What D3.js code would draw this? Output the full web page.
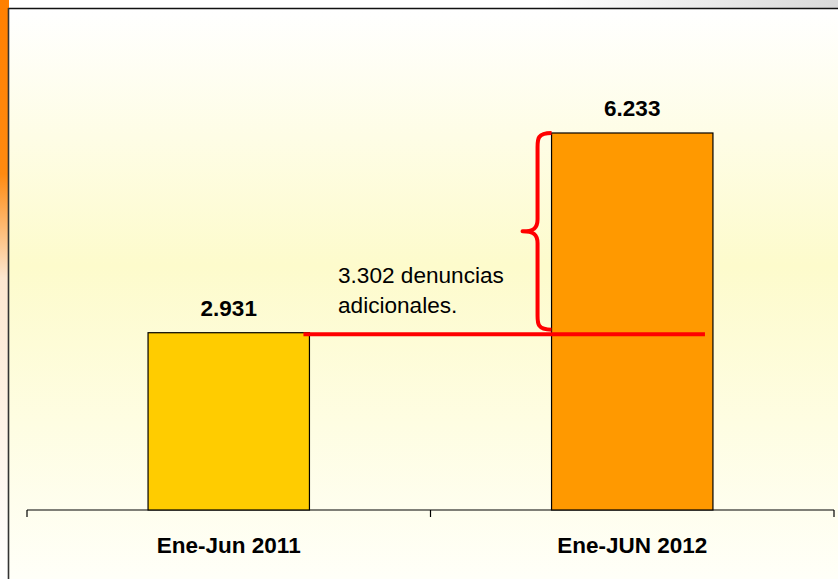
<!DOCTYPE html>
<html>
<head>
<meta charset="utf-8">
<script src="https://cdn.jsdelivr.net/npm/d3@7"></script>
<style>
html,body{margin:0;padding:0;background:#fff;}
svg{display:block;}
text{font-family:"Liberation Sans",Arial,sans-serif;}
</style>
</head>
<body>
<svg id="chart" width="838" height="579"></svg>
<script>
// ---- data ----
const categories = ["Ene-Jun 2011", "Ene-JUN 2012"];
const values = [2931, 6233];
const valueLabels = ["2.931", "6.233"];
const barColors = ["#FFCC00", "#FF9900"];
const annotationLines = ["3.302 denuncias", "adicionales."];

const svg = d3.select("#chart");
const W = 838, H = 579;
const defs = svg.append("defs");

// decorative outer gradients
const gTop = defs.append("linearGradient").attr("id","gTop").attr("x1","0").attr("x2","1").attr("y1","0").attr("y2","0");
gTop.append("stop").attr("offset","0%").attr("stop-color","#ffffff");
gTop.append("stop").attr("offset","65%").attr("stop-color","#ffffff");
gTop.append("stop").attr("offset","100%").attr("stop-color","#d9d9d9");
const gLeft = defs.append("linearGradient").attr("id","gLeft").attr("x1","0").attr("x2","0").attr("y1","0").attr("y2","1");
gLeft.append("stop").attr("offset","0%").attr("stop-color","#ff8000");
gLeft.append("stop").attr("offset","30%").attr("stop-color","#ff8a10");
gLeft.append("stop").attr("offset","48%").attr("stop-color","#fde7d0");
gLeft.append("stop").attr("offset","100%").attr("stop-color","#ffffff");
const gBg = defs.append("linearGradient").attr("id","gBg").attr("x1","0").attr("x2","0").attr("y1","0").attr("y2","1");
gBg.append("stop").attr("offset","0%").attr("stop-color","#ffffff");
gBg.append("stop").attr("offset","45%").attr("stop-color","#fdfbcc");
gBg.append("stop").attr("offset","100%").attr("stop-color","#fffff8");

svg.append("rect").attr("x",0).attr("y",0).attr("width",W).attr("height",9).attr("fill","url(#gTop)");
svg.append("rect").attr("x",0).attr("y",0).attr("width",9).attr("height",H).attr("fill","url(#gLeft)");
svg.append("rect").attr("x",9).attr("y",9).attr("width",W-9).attr("height",H-9).attr("fill","url(#gBg)");
// frame
svg.append("line").attr("x1",8.5).attr("x2",W).attr("y1",8.5).attr("y2",8.5).attr("stroke","#111").attr("stroke-width",1.6);
svg.append("line").attr("x1",8.5).attr("x2",8.5).attr("y1",8).attr("y2",H).attr("stroke","#333").attr("stroke-width",1.6);

// scales
const x = d3.scaleBand().domain(categories).range([27, 834]).padding(0);
const y = d3.scaleLinear().domain([0, 7000]).range([510, 86.6]);
const barW = x.bandwidth() * 0.4;
const cx = c => x(c) + x.bandwidth() / 2;

// axis
const ax = svg.append("g").attr("transform","translate(0,510)");
ax.append("line").attr("x1",27).attr("x2",834).attr("stroke","#000").attr("stroke-width",1.2);
const tickXs = [27].concat(categories.map(c => x(c) + x.bandwidth()));
ax.selectAll("line.tick").data(tickXs).enter().append("line").attr("class","tick")
  .attr("x1",d=>d).attr("x2",d=>d).attr("y1",0).attr("y2",7).attr("stroke","#000").attr("stroke-width",1.2);
ax.selectAll("text.cat").data(categories).enter().append("text").attr("class","cat")
  .attr("x",d=>cx(d)).attr("y",42.5).attr("text-anchor","middle")
  .attr("font-size",22.5).attr("font-weight","bold").attr("fill","#000").text(d=>d);

// bars
const data = categories.map((c,i)=>({c, v:values[i], label:valueLabels[i], color:barColors[i]}));
svg.selectAll("rect.bar").data(data).enter().append("rect").attr("class","bar")
  .attr("x",d=>cx(d.c)-barW/2).attr("width",barW)
  .attr("y",d=>y(d.v)).attr("height",d=>y(0)-y(d.v))
  .attr("fill",d=>d.color).attr("stroke","#000").attr("stroke-width",1.2);
svg.selectAll("text.val").data(data).enter().append("text").attr("class","val")
  .attr("x",d=>cx(d.c)).attr("y",d=>y(d.v)-17).attr("text-anchor","middle")
  .attr("font-size",22.5).attr("font-weight","bold").attr("fill","#000").text(d=>d.label);

// red reference line at 2011 level
const yBase = y(values[0]) + 1.5;
const x1c = cx(categories[0]) + barW/2;
const x2c = cx(categories[1]) + barW/2;
svg.append("line").attr("x1",x1c-6).attr("x2",x2c-8).attr("y1",yBase).attr("y2",yBase)
  .attr("stroke","#ff0000").attr("stroke-width",4);

// brace
const bx = cx(categories[1]) - barW/2;
const yt = y(values[1]), yb = y(values[0]) - 3;
const ym = (yt + yb) / 2;
const bv = bx - 14, bt = bx - 29;
const brace = `M${bx},${yt} C${bv},${yt} ${bv},${yt+6} ${bv},${yt+14}
  L${bv},${ym-12} C${bv},${ym-3} ${bv-4},${ym} ${bt},${ym}
  C${bv-4},${ym} ${bv},${ym+3} ${bv},${ym+12}
  L${bv},${yb-14} C${bv},${yb-6} ${bv},${yb} ${bx},${yb}`;
svg.append("path").attr("d",brace).attr("fill","none").attr("stroke","#ff0000").attr("stroke-width",4).attr("stroke-linejoin","round");

// annotation text
const ann = svg.append("text").attr("x",338).attr("y",283).attr("font-size",22.6).attr("fill","#000");
annotationLines.forEach((t,i)=>ann.append("tspan").attr("x",338).attr("dy",i===0?0:30).text(t));
</script>
</body>
</html>
